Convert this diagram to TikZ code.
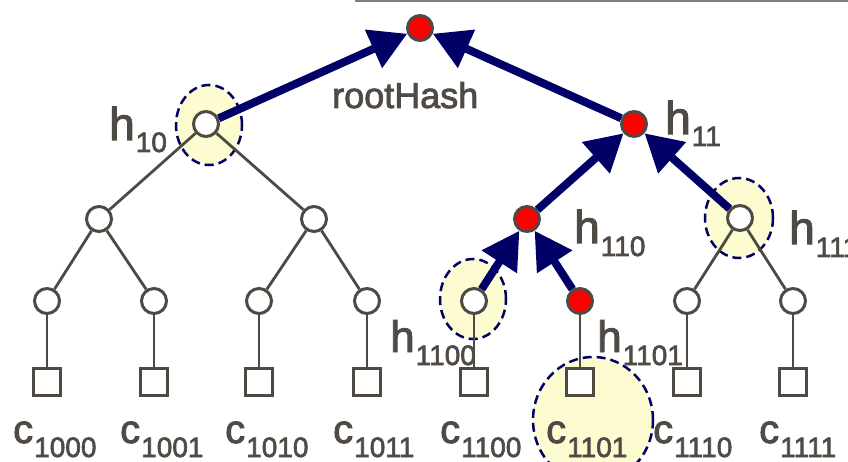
\documentclass[tikz,border=0pt]{standalone}
\usepackage{fontspec}
\setmainfont[FakeBold=2.2]{Liberation Sans}
\usetikzlibrary{arrows.meta}
\definecolor{txt}{HTML}{504A45}
\definecolor{edgec}{HTML}{4F4944}
\definecolor{navyc}{HTML}{000066}
\definecolor{hlc}{HTML}{FCFCD0}
% #1 letter, #2 subscript, #3 drop of subscript (pt), #4 letter size
\newcommand{\mylab}[4]{{\fontsize{#4}{#4}\selectfont #1}\kern1pt\raisebox{-#3pt}{\fontsize{28}{28}\selectfont #2}}
\begin{document}
\begin{tikzpicture}[x=1pt,y=-1pt,
  nd/.style={circle,draw=edgec,line width=3pt,minimum size=25pt,inner sep=0pt,fill=white},
  rednd/.style={nd,fill=red},
  leaf/.style={rectangle,draw=edgec,line width=3pt,minimum size=27pt,inner sep=0pt,fill=white},
  tree/.style={draw=edgec,line width=2.8pt},
  proof/.style={draw=navyc,line width=8pt,-{Triangle[length=37pt,width=40pt]}},
  hlt/.style={draw=navyc,line width=2.5pt,dash pattern=on 9pt off 5pt,fill=hlc},
  lbl/.style={text=txt,inner sep=0pt,anchor=base west}]
\useasboundingbox (0,0) rectangle (848,462);
\clip (0,0) rectangle (848,462);
\draw[draw=gray,line width=2pt] (355,1) -- (848,1);
% highlights
\draw[hlt] (209,125) ellipse [x radius=33pt,y radius=40pt];
\draw[hlt] (739,218) ellipse [x radius=34pt,y radius=40pt];
\draw[hlt] (473,299) ellipse [x radius=33pt,y radius=40pt];
\draw[hlt] (593,420) ellipse [x radius=60pt,y radius=63pt];
% nodes
\node[rednd] (r) at (420,28) {};
\node[nd] (h10) at (206,124) {};
\node[rednd] (h11) at (634,124) {};
\node[nd] (h100) at (99,219) {};
\node[nd] (h101) at (314,219) {};
\node[rednd] (h110) at (527,219) {};
\node[nd] (h111) at (740,218) {};
\node[nd] (h1000) at (47,301) {};
\node[nd] (h1001) at (154,301) {};
\node[nd] (h1010) at (259,301) {};
\node[nd] (h1011) at (367,301) {};
\node[nd] (h1100) at (474,301) {};
\node[rednd] (h1101) at (580,301) {};
\node[nd] (h1110) at (687,301) {};
\node[nd] (h1111) at (793,301) {};
\foreach \n/\x in {1000/47,1001/154,1010/259,1011/367,1100/474,1101/580,1110/687,1111/793}{
  \node[leaf] (c\n) at (\x,382) {};
  \draw[tree] (h\n) -- (c\n);
}
% tree edges
\draw[tree] (h10) -- (h100);
\draw[tree] (h10) -- (h101);
\draw[tree] (h100) -- (h1000);
\draw[tree] (h100) -- (h1001);
\draw[tree] (h101) -- (h1010);
\draw[tree] (h101) -- (h1011);
\draw[tree] (h111) -- (h1110);
\draw[tree] (h111) -- (h1111);
% proof path
\draw[proof] (h10) -- (r);
\draw[proof] (h11) -- (r);
\draw[proof] (h110) -- (h11);
\draw[proof] (h111) -- (h11);
\draw[proof] (h1100) -- (h110);
\draw[proof] (h1101) -- (h110);
% labels
\node[lbl,font=\fontsize{36}{36}\selectfont] (lroot) at (332,108) {rootHash};
\node[lbl] (l10) at (109,140) {\mylab{h}{10}{12}{46}};
\node[lbl] (l11) at (665,134) {\mylab{h}{11}{12}{46}};
\node[lbl] (l110) at (574,243) {\mylab{h}{110}{13}{46}};
\node[lbl] (l111) at (789,244) {\mylab{h}{111}{13}{46}};
\node[lbl] (l1100) at (390,352) {\mylab{h}{1100}{13}{44}};
\node[lbl] (l1101) at (597,352) {\mylab{h}{1101}{13}{44}};
\foreach \n/\x in {1000/47,1001/154,1010/259,1011/367,1100/474,1101/580,1110/687,1111/793}{
  \node[lbl] (lc\n) at (\x-34,443) {\mylab{c}{\n}{14}{40}};
}
\end{tikzpicture}
\end{document}
